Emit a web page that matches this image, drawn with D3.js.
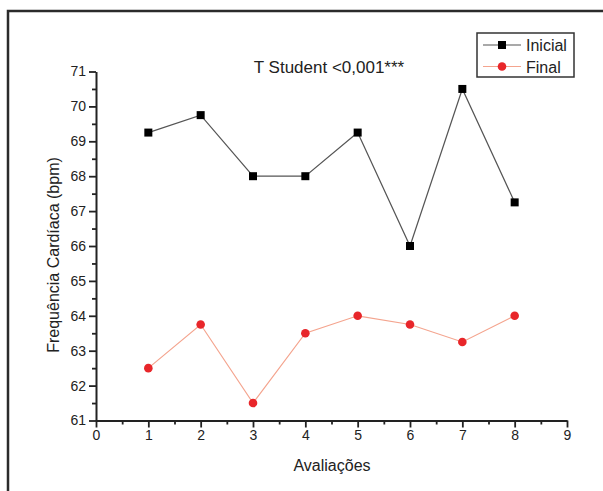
<!DOCTYPE html>
<html>
<head>
<meta charset="utf-8">
<script src="https://cdn.jsdelivr.net/npm/d3@7.9.0/dist/d3.min.js"></script>
<style>
  body { margin: 0; background: #fff; }
  svg { display: block; font-family: "Liberation Sans", Arial, sans-serif; }
</style>
</head>
<body>
<svg id="chart" width="603" height="491"></svg>
<script>
// data
const avaliacoes = [1, 2, 3, 4, 5, 6, 7, 8];
const inicial = [69.25, 69.75, 68, 68, 69.25, 66, 70.5, 67.25];
const final = [62.5, 63.75, 61.5, 63.5, 64, 63.75, 63.25, 64];
const xTicks = [0, 1, 2, 3, 4, 5, 6, 7, 8, 9];
const yTicks = [61, 62, 63, 64, 65, 66, 67, 68, 69, 70, 71];
const seriesNames = ["Inicial", "Final"];

const svg = d3.select("#chart");

// frame around the figure (runs off the right and bottom edge)
svg.append("rect")
  .attr("x", 8).attr("y", 11)
  .attr("width", 700).attr("height", 600)
  .attr("fill", "none")
  .attr("stroke", "#2b2b2b")
  .attr("stroke-width", 2.5);

const x = d3.scaleLinear().domain([0, 9]).range([96, 567]);
const y = d3.scaleLinear().domain([61, 71]).range([420.5, 71.5]);

const half = v => v.slice(0, -1).map(d => d + 0.5);

// minor ticks
svg.append("g")
  .attr("transform", `translate(0,${y(61)})`)
  .call(d3.axisBottom(x).tickValues(half(xTicks)).tickSize(4).tickSizeOuter(0).tickFormat(""))
  .call(g => g.select(".domain").remove());
svg.append("g")
  .attr("transform", `translate(${x(0)},0)`)
  .call(d3.axisLeft(y).tickValues(half(yTicks)).tickSize(4).tickSizeOuter(0).tickFormat(""))
  .call(g => g.select(".domain").remove());

// major axes
const xAxis = svg.append("g")
  .attr("transform", `translate(0,${y(61)})`)
  .call(d3.axisBottom(x).tickValues(xTicks).tickSize(7).tickSizeOuter(0).tickPadding(3));
const yAxis = svg.append("g")
  .attr("transform", `translate(${x(0)},0)`)
  .call(d3.axisLeft(y).tickValues(yTicks).tickSize(7).tickSizeOuter(0).tickPadding(3));

svg.selectAll(".tick line").attr("stroke", "#222").attr("stroke-width", 1.8);
svg.selectAll(".domain").attr("stroke", "#222").attr("stroke-width", 2);
svg.selectAll(".tick text")
  .attr("font-size", 14)
  .attr("font-family", "'Liberation Sans', Arial, sans-serif")
  .attr("fill", "#222");

// axis titles
svg.append("text")
  .attr("x", 332).attr("y", 471)
  .attr("text-anchor", "middle")
  .attr("font-size", 16)
  .attr("fill", "#222")
  .text("Avaliações");
svg.append("text")
  .attr("transform", "translate(59,255) rotate(-90)")
  .attr("text-anchor", "middle")
  .attr("font-size", 16)
  .attr("fill", "#222")
  .text("Frequência Cardíaca (bpm)");

svg.append("text")
  .attr("x", 329).attr("y", 73)
  .attr("text-anchor", "middle")
  .attr("font-size", 17)
  .attr("fill", "#222")
  .text("T Student <0,001***");

const line = d3.line().x((d, i) => x(avaliacoes[i])).y(d => y(d));

// Inicial
svg.append("path")
  .datum(inicial)
  .attr("d", line)
  .attr("fill", "none")
  .attr("stroke", "#555")
  .attr("stroke-width", 1.2);
svg.selectAll(".sq")
  .data(inicial)
  .join("rect")
  .attr("x", (d, i) => x(avaliacoes[i]) - 4)
  .attr("y", d => y(d) - 4)
  .attr("width", 8).attr("height", 8)
  .attr("fill", "#000");

// Final
svg.append("path")
  .datum(final)
  .attr("d", line)
  .attr("fill", "none")
  .attr("stroke", "#f4a48e")
  .attr("stroke-width", 1.2);
svg.selectAll(".dot")
  .data(final)
  .join("circle")
  .attr("cx", (d, i) => x(avaliacoes[i]))
  .attr("cy", d => y(d))
  .attr("r", 4.3)
  .attr("fill", "#e8262a");

// legend
const legend = svg.append("g");
legend.append("rect")
  .attr("x", 477).attr("y", 33)
  .attr("width", 97).attr("height", 44)
  .attr("fill", "#fff")
  .attr("stroke", "#333")
  .attr("stroke-width", 1.5);
seriesNames.forEach((name, i) => {
  const ly = 45 + i * 21.5;
  legend.append("line")
    .attr("x1", 483).attr("x2", 521)
    .attr("y1", ly).attr("y2", ly)
    .attr("stroke", i === 0 ? "#555" : "#f4a48e")
    .attr("stroke-width", 1.2);
  if (i === 0) {
    legend.append("rect")
      .attr("x", 498).attr("y", ly - 4)
      .attr("width", 8).attr("height", 8)
      .attr("fill", "#000");
  } else {
    legend.append("circle")
      .attr("cx", 502).attr("cy", ly)
      .attr("r", 4.3)
      .attr("fill", "#e8262a");
  }
  legend.append("text")
    .attr("x", 526).attr("y", ly + 6)
    .attr("font-size", 16)
    .attr("fill", "#222")
    .text(name);
});
</script>
</body>
</html>
